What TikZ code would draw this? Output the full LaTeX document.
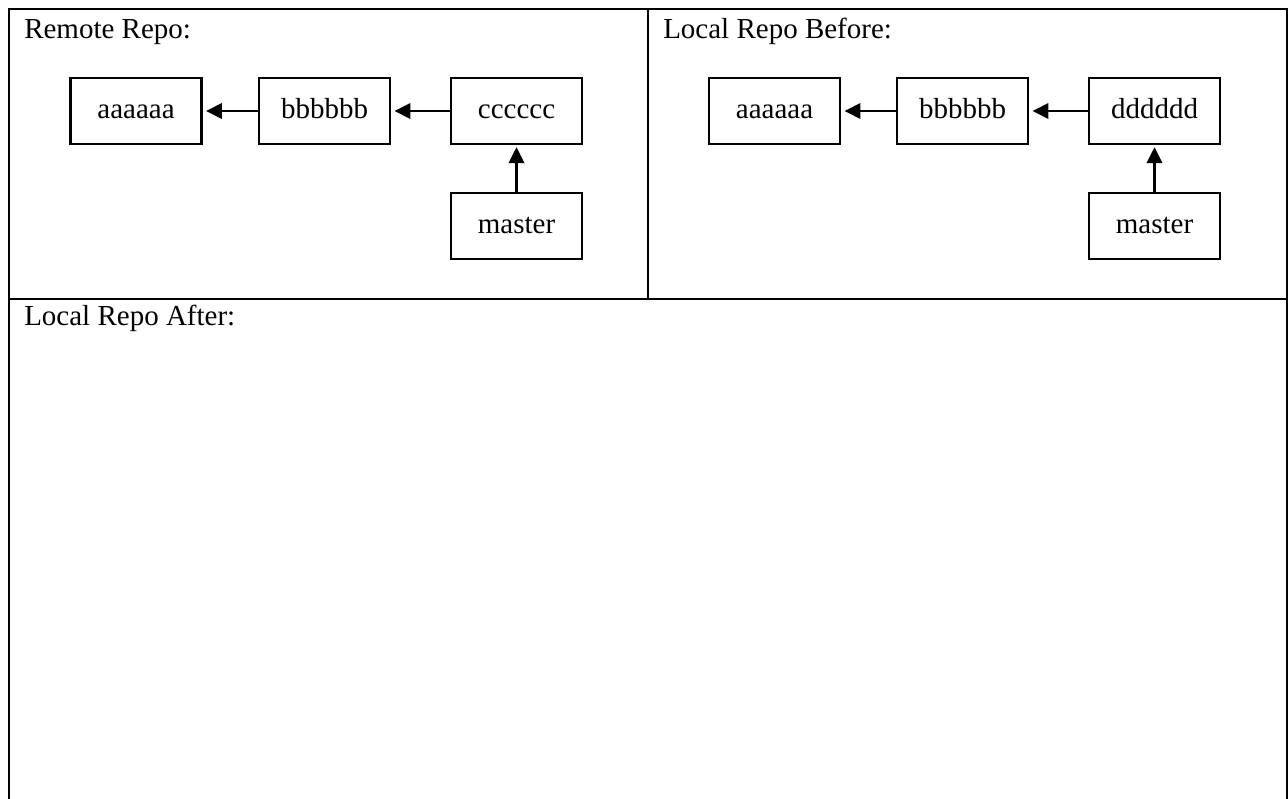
\documentclass[tikz,border=0pt]{standalone}
\usepackage{fontspec}
\setmainfont{Liberation Serif}
\usetikzlibrary{arrows.meta}
\begin{document}
\begin{tikzpicture}[x=0.75pt,y=-0.75pt,
  font=\fontsize{21.75}{26}\selectfont,
  frame/.style={line width=2pt},
  commit/.style={draw, line width=1.7pt, minimum width=98.25pt, minimum height=49.5pt, inner sep=0pt, text height=14.5pt, text depth=3pt},
  title/.style={anchor=base west, inner sep=0pt},
  link/.style={line width=1.9pt, -{Triangle[length=12pt,width=11.5pt]}, shorten >=2.5pt}]
\useasboundingbox (0,0) rectangle (1288,799);
% frame
\draw[frame] (9,800) -- (9,9) -- (1287,9) -- (1287,800);
\draw[frame] (9,299) -- (1287,299);
\draw[frame] (648,9) -- (648,299);
% titles
\node[title] (t1) at (24,39) {Remote Repo:};
\node[title] (t2) at (663,39) {Local Repo Before:};
\node[title] (t3) at (24,325) {Local Repo After:};
% remote
\node[commit] (ra) at (136,111) {aaaaaa};
\node[commit] (rb) at (324.5,111) {bbbbbb};
\node[commit] (rc) at (516.5,111) {cccccc};
\node[commit] (rm) at (516.5,226) {master};
\draw[link] (rb) -- (ra);
\draw[link] (rc) -- (rb);
\draw[link, shorten >=1.5pt] (rm) -- (rc);
% local before
\node[commit] (la) at (774.5,111) {aaaaaa};
\node[commit] (lb) at (962.5,111) {bbbbbb};
\node[commit] (ld) at (1154.5,111) {dddddd};
\node[commit] (lm) at (1154.5,226) {master};
\draw[link] (lb) -- (la);
\draw[link] (ld) -- (lb);
\draw[link, shorten >=1.5pt] (lm) -- (ld);
\end{tikzpicture}
\end{document}
